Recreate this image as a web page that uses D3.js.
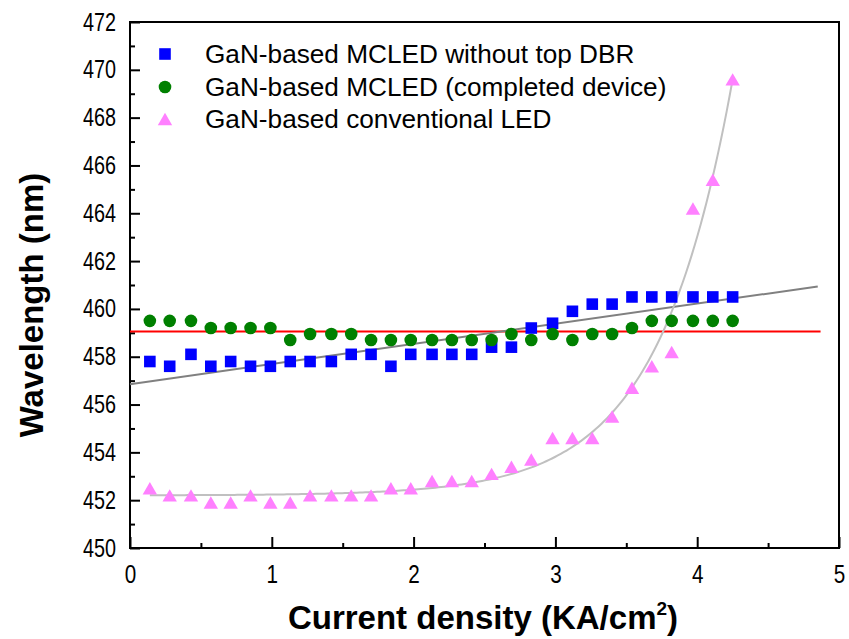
<!DOCTYPE html>
<html>
<head>
<meta charset="utf-8">
<script src="https://cdn.jsdelivr.net/npm/d3@7"></script>
<style>
  html, body { margin: 0; padding: 0; background: #fff; }
  svg { display: block; }
  text { font-family: "Liberation Sans", Arial, sans-serif; fill: #000; }
</style>
</head>
<body>
<svg id="chart" width="849" height="639"></svg>
<script>
// ---- data ----
const currentDensity = [0.14, 0.28, 0.43, 0.57, 0.71, 0.85, 0.99, 1.13, 1.27, 1.42,
                        1.56, 1.70, 1.84, 1.98, 2.13, 2.27, 2.41, 2.55, 2.69, 2.83,
                        2.98, 3.12, 3.26, 3.40, 3.54, 3.68, 3.82, 3.97, 4.11, 4.25];
const withoutTopDBR = [457.8, 457.6, 458.1, 457.6, 457.8, 457.6, 457.6, 457.8, 457.8, 457.8,
                       458.1, 458.1, 457.6, 458.1, 458.1, 458.1, 458.1, 458.4, 458.4, 459.2,
                       459.4, 459.9, 460.2, 460.2, 460.5, 460.5, 460.5, 460.5, 460.5, 460.5];
const completedDevice = [459.5, 459.5, 459.5, 459.2, 459.2, 459.2, 459.2, 458.7, 458.95, 458.95,
                         458.95, 458.7, 458.7, 458.7, 458.7, 458.7, 458.7, 458.7, 458.95, 458.7,
                         458.95, 458.7, 458.95, 458.95, 459.2, 459.5, 459.5, 459.5, 459.5, 459.5];
const conventionalLED = [452.5, 452.2, 452.2, 451.9, 451.9, 452.2, 451.9, 451.9, 452.2, 452.2,
                         452.2, 452.2, 452.5, 452.5, 452.8, 452.8, 452.8, 453.1, 453.4, 453.7,
                         454.6, 454.6, 454.6, 455.5, 456.7, 457.6, 458.2, 464.2, 465.4, 469.6];
const seriesNames = ["GaN-based MCLED without top DBR", "GaN-based MCLED (completed device)", "GaN-based conventional LED"];
const xTicks = [0, 1, 2, 3, 4, 5];
const yTicks = [450, 452, 454, 456, 458, 460, 462, 464, 466, 468, 470, 472];
// fit lines (parameters)
const linearFit = { intercept: 456.85, slope: 0.843, xStart: 0, xEnd: 4.85 };
const constantFit = { value: 459.05, xStart: 0, xEnd: 4.87 };
const expFit = { y0: 452.2, a: 0.00539, t: 0.526, xStart: 0.14, xEnd: 4.25 };

// ---- layout ----
const svg = d3.select("#chart");
const L = 130, R = 839, T = 22, B = 548;
const x = d3.scaleLinear().domain([0, 5]).range([L, R]);
const y = d3.scaleLinear().domain([450, 472]).range([B, T]);

// axes
const gx = svg.append("g").attr("transform", `translate(0,${B})`)
  .call(d3.axisBottom(x).tickValues(xTicks).tickFormat(d3.format("d"))
        .tickSizeInner(-11).tickSizeOuter(0).tickPadding(17));
gx.selectAll("text").attr("font-size", 25).attr("textLength", 11.5).attr("lengthAdjust", "spacingAndGlyphs");
svg.append("g").attr("transform", `translate(0,${B})`)
  .call(d3.axisBottom(x).tickValues(d3.range(0.5, 5, 1)).tickFormat("").tickSizeInner(-5).tickSizeOuter(0));

const gy = svg.append("g").attr("transform", `translate(${L},0)`)
  .call(d3.axisLeft(y).tickValues(yTicks).tickFormat(d3.format("d"))
        .tickSizeInner(-10).tickSizeOuter(0).tickPadding(14));
gy.selectAll("text").attr("font-size", 25).attr("textLength", 33).attr("lengthAdjust", "spacingAndGlyphs");
svg.append("g").attr("transform", `translate(${L},0)`)
  .call(d3.axisLeft(y).tickValues(d3.range(451, 472, 2)).tickFormat("").tickSizeInner(-5).tickSizeOuter(0));

svg.selectAll(".domain").remove();
svg.selectAll(".tick line").attr("stroke", "#000").attr("stroke-width", 2);

// frame
svg.append("rect").attr("x", L).attr("y", T).attr("width", R - L).attr("height", B - T)
  .attr("fill", "none").attr("stroke", "#000").attr("stroke-width", 2);

// fit lines
const line = d3.line().x(d => x(d[0])).y(d => y(d[1]));
svg.append("path")
  .attr("d", line([[constantFit.xStart, constantFit.value], [constantFit.xEnd, constantFit.value]]))
  .attr("stroke", "#ff0000").attr("stroke-width", 2).attr("fill", "none");
svg.append("path")
  .attr("d", line([[linearFit.xStart, linearFit.intercept + linearFit.slope * linearFit.xStart],
                   [linearFit.xEnd, linearFit.intercept + linearFit.slope * linearFit.xEnd]]))
  .attr("stroke", "#808080").attr("stroke-width", 2).attr("fill", "none");
const expPts = d3.range(0, 201).map(i => {
  const xv = expFit.xStart + (expFit.xEnd - expFit.xStart) * i / 200;
  return [xv, expFit.y0 + expFit.a * Math.exp(xv / expFit.t)];
});
svg.append("path").attr("d", line(expPts))
  .attr("stroke", "#c0c0c0").attr("stroke-width", 2).attr("fill", "none");

// markers
const tri = {
  draw(ctx) { ctx.moveTo(0, -6.2); ctx.lineTo(7.2, 6.2); ctx.lineTo(-7.2, 6.2); ctx.closePath(); }
};
const sq = {
  draw(ctx) { ctx.rect(-5.8, -5.8, 11.6, 11.6); }
};

svg.append("g").selectAll("path").data(currentDensity).join("path")
  .attr("d", d3.symbol().type(sq)()).attr("fill", "#0000ff")
  .attr("transform", (d, i) => `translate(${x(d)},${y(withoutTopDBR[i])})`);
svg.append("g").selectAll("circle").data(currentDensity).join("circle")
  .attr("cx", d => x(d)).attr("cy", (d, i) => y(completedDevice[i])).attr("r", 6.3)
  .attr("fill", "#008000");
svg.append("g").selectAll("path").data(currentDensity).join("path")
  .attr("d", d3.symbol().type(tri)()).attr("fill", "#ff80ff")
  .attr("transform", (d, i) => `translate(${x(d)},${y(conventionalLED[i])})`);

// legend
const lg = svg.append("g");
const rows = [54, 87, 119];
lg.append("path").attr("d", d3.symbol().type(sq)()).attr("fill", "#0000ff")
  .attr("transform", `translate(165,${rows[0]})`);
lg.append("circle").attr("cx", 165).attr("cy", rows[1]).attr("r", 6.3).attr("fill", "#008000");
lg.append("path").attr("d", d3.symbol().type(tri)()).attr("fill", "#ff80ff")
  .attr("transform", `translate(165,${rows[2]})`);
seriesNames.forEach((n, i) => {
  lg.append("text").attr("x", 205).attr("y", rows[i] + 9).attr("font-size", 26.2).text(n);
});

// axis titles
const xt = svg.append("text").attr("x", 483).attr("y", 629).attr("text-anchor", "middle")
  .attr("font-size", 33).attr("font-weight", "bold");
xt.append("tspan").text("Current density (KA/cm");
xt.append("tspan").attr("font-size", 19).attr("dy", -14).text("2");
xt.append("tspan").attr("dy", 14).text(")");

svg.append("text").attr("transform", "translate(43,305) rotate(-90)").attr("text-anchor", "middle")
  .attr("font-size", 33).attr("font-weight", "bold").text("Wavelength (nm)");
</script>
</body>
</html>
